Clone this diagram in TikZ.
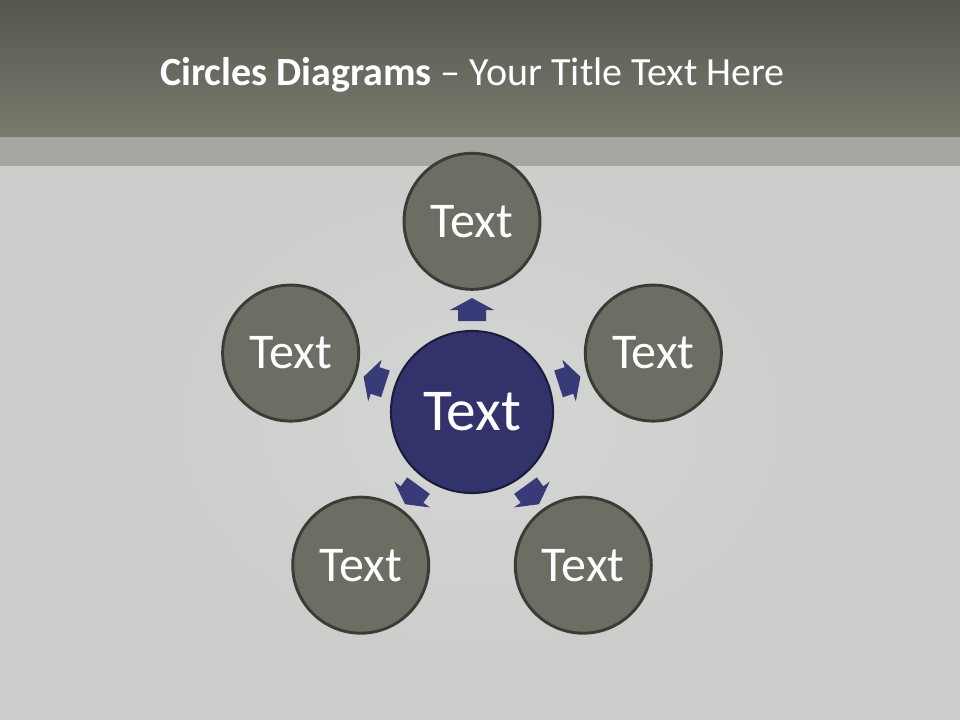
\documentclass[tikz,border=0pt]{standalone}
\usepackage{fontspec}
\setmainfont{Carlito}
\definecolor{hdrtop}{HTML}{55564E}
\definecolor{hdrbot}{HTML}{7A7C6F}
\definecolor{strip}{HTML}{A5A8A0}
\definecolor{bg}{HTML}{CCCECB}
\definecolor{bglight}{HTML}{D4D6D3}
\definecolor{outerfill}{HTML}{6D6E63}
\definecolor{outerdraw}{HTML}{3B3C36}
\definecolor{centerfill}{HTML}{32336A}
\definecolor{centerdraw}{HTML}{1C1C3C}
\definecolor{arrowcol}{HTML}{393B78}
\tikzset{
  outercirc/.style={circle, minimum size=102pt, inner sep=0pt, fill=outerfill, draw=outerdraw, line width=2.2pt, text=white, font=\fontsize{37.5}{40}\selectfont},
  centercirc/.style={circle, minimum size=121.5pt, inner sep=0pt, fill=centerfill, draw=centerdraw, line width=1.6pt, text=white, font=\fontsize{44.5}{48}\selectfont},
  blockarrow/.style={fill=arrowcol, draw=none}
}
\begin{document}
\begin{tikzpicture}[x=0.75pt,y=0.75pt]
\useasboundingbox (0,0) rectangle (960,-720);
% background
\fill[bg] (0,-137) rectangle (960,-720);
\shade[inner color=bglight, outer color=bg] (160,-180) rectangle (800,-660);
\shade[top color=hdrtop, bottom color=hdrbot] (0,0) rectangle (960,-137);
\fill[strip] (0,-137) rectangle (960,-166);
% title
\node[text=white, font=\fontsize{30}{34}\selectfont] (title) at (472.5,-75) {\textbf{Circles Diagrams} – Your Title Text Here};
% center
\node[centercirc] (c) at (472,-412) {Text};
% outer circles
\node[outercirc] (n1) at ([shift={(90:143pt)}]c.center) {Text};
\node[outercirc] (n2) at ([shift={(162:143pt)}]c.center) {Text};
\node[outercirc] (n3) at ([shift={(234:142pt)}]c.center) {Text};
\node[outercirc] (n4) at ([shift={(306:142pt)}]c.center) {Text};
\node[outercirc] (n5) at ([shift={(18:143pt)}]c.center) {Text};
% block arrows
\foreach \a in {90,162,234,306,18}{
  \begin{scope}[shift={(c.center)}, rotate=\a-90]
    \fill[blockarrow] (-14,91) -- (14,91) -- (14,102) -- (22,102) -- (0,114) -- (-22,102) -- (-14,102) -- cycle;
  \end{scope}
}
\end{tikzpicture}
\end{document}
